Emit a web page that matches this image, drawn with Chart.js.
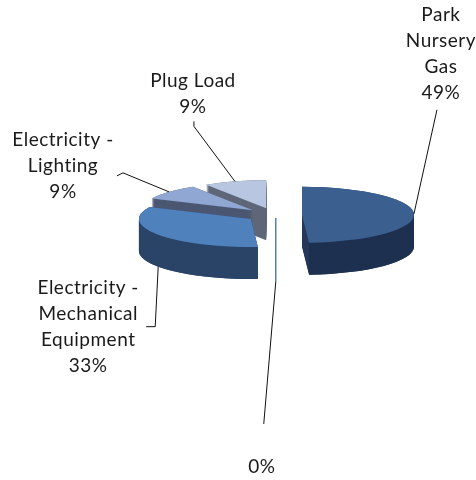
<!DOCTYPE html>
<html>
<head>
<meta charset="utf-8">
<script src="https://cdn.jsdelivr.net/npm/chart.js@4"></script>
<style>
  body { margin: 0; background: #fff; }
</style>
</head>
<body>
<canvas id="grafico" width="476" height="480"></canvas>
<script>
// data (percent of total)
const categories = ["Park Nursery Gas", "", "Electricity - Mechanical Equipment", "Electricity - Lighting", "Plug Load"];
const values = [49, 0, 33, 9, 9];

// colours: top face, curved wall, cut wall
const topColors = ["#3b6090", "#4f81bd", "#4f81bd", "#8fa7d2", "#b8c6e1"];
const wallColors = ["#1e3050", "#2a4468", "#2a4468", "#4b5772", "#5f6778"];
const cutColors = ["#26395c", "#5a7fb0", "#33507a", "#4b5772", "#5f6778"];

// 3d look
const tilt = 0.25;
const depth = 32;
const explode = 28;

// leader line / label placement, relative to the point on the slice
const labelLayout = [
  { end: [23, -104], hook: null, text: [4, -95], wrap: 70 },
  { end: [-12, 142], hook: null, text: [-2, 43], wrap: 60 },
  { end: [-3, 60], hook: [-9, 0], text: [-67, -39], wrap: 115 },
  { end: [-46, -19], hook: [-6, 3], text: [-60, -33], wrap: 110 },
  { end: [-41, -55], hook: [0, -5], text: [-1, -46], wrap: 120 },
];

function wedge(ctx, x, y, r, a0, a1) {
  ctx.save();
  ctx.translate(x, y);
  ctx.scale(1, tilt);
  ctx.beginPath();
  ctx.moveTo(0, 0);
  ctx.arc(0, 0, r, a0, a1);
  ctx.closePath();
  ctx.restore();
}

function wrapText(ctx, text, maxW) {
  const words = text.split(" ").filter(w => w);
  const lines = [];
  let line = "";
  words.forEach(w => {
    const test = line ? line + " " + w : w;
    if (line && ctx.measureText(test).width > maxW) {
      lines.push(line);
      line = w;
    } else {
      line = test;
    }
  });
  if (line) lines.push(line);
  return lines;
}

const pie3d = {
  id: "pie3d",
  beforeDatasetsDraw(chart) {
    const ctx = chart.ctx;
    const arcs = chart.getDatasetMeta(0).data;
    const total = values.reduce((a, b) => a + b, 0);

    const slices = arcs.map((arc, i) => {
      const p = arc.getProps(["x", "y", "startAngle", "endAngle", "outerRadius"]);
      const mid = (p.startAngle + p.endAngle) / 2;
      return {
        i, p, mid,
        sx: p.x + explode * Math.cos(mid),
        sy: p.y + explode * tilt * Math.sin(mid),
      };
    });

    // back to front
    const order = slices.slice().sort((a, b) => a.sy - b.sy);
    order.forEach(s => {
      const r = s.p.outerRadius;
      const a0 = s.p.startAngle, a1 = s.p.endAngle;
      if (a1 - a0 <= 0) {
        // zero slice: only a thin edge shows
        ctx.strokeStyle = cutColors[s.i];
        ctx.lineWidth = 1.5;
        ctx.beginPath();
        ctx.moveTo(s.sx, s.sy - 4);
        ctx.lineTo(s.sx, s.sy + r * tilt * Math.sin(s.mid) + depth);
        ctx.stroke();
        return;
      }
      // body
      ctx.fillStyle = cutColors[s.i];
      for (let d = depth; d >= 0; d--) {
        wedge(ctx, s.sx, s.sy + d, r, a0, a1);
        ctx.fill();
      }
      // front curved wall
      const b0 = Math.max(a0, 0), b1 = Math.min(a1, Math.PI);
      if (b1 > b0) {
        ctx.save();
        ctx.translate(s.sx, s.sy);
        ctx.scale(1, tilt);
        ctx.beginPath();
        ctx.arc(0, 0, r, b0, b1);
        ctx.arc(0, depth / tilt, r, b1, b0, true);
        ctx.closePath();
        ctx.restore();
        ctx.fillStyle = wallColors[s.i];
        ctx.fill();
      }
      // top
      wedge(ctx, s.sx, s.sy, r, a0, a1);
      ctx.fillStyle = topColors[s.i];
      ctx.fill();
    });

    // labels
    ctx.save();
    ctx.font = "19px Lato";
    ctx.letterSpacing = "0.5px";
    ctx.textAlign = "center";
    ctx.textBaseline = "middle";
    slices.forEach(s => {
      const lay = labelLayout[s.i];
      const r = s.p.outerRadius;
      const empty = s.p.endAngle - s.p.startAngle <= 0;
      let ax = empty ? s.sx : s.sx + r * Math.cos(s.mid);
      let ay = s.sy + r * tilt * Math.sin(s.mid);
      if (Math.sin(s.mid) > 0.3) ay += depth;
      const ex = ax + lay.end[0], ey = ay + lay.end[1];
      ctx.strokeStyle = "#111";
      ctx.lineWidth = 1;
      ctx.beginPath();
      ctx.moveTo(ax, ay);
      ctx.lineTo(ex, ey);
      if (lay.hook) ctx.lineTo(ex + lay.hook[0], ey + lay.hook[1]);
      ctx.stroke();

      const pct = Math.round(values[s.i] / total * 100) + "%";
      const lines = wrapText(ctx, categories[s.i], lay.wrap);
      lines.push(pct);
      ctx.fillStyle = "#1a1a1a";
      lines.forEach((ln, k) => {
        ctx.fillText(ln, ex + lay.text[0], ey + lay.text[1] + k * 26);
      });
    });
    ctx.restore();
    return false;
  }
};

let ctx = document.getElementById("grafico").getContext("2d");
let grafico = new Chart(ctx, {
  type: "pie",
  data: {
    labels: categories,
    datasets: [
      {
        data: values,
        backgroundColor: topColors,
        borderWidth: 0,
      },
    ],
  },
  options: {
    responsive: false,
    animation: false,
    radius: 112,
    layout: { padding: { left: 72, right: 0, top: 0, bottom: 50 } },
    plugins: {
      legend: { display: false },
      tooltip: { enabled: false },
    },
  },
  plugins: [pie3d],
});
</script>
</body>
</html>
